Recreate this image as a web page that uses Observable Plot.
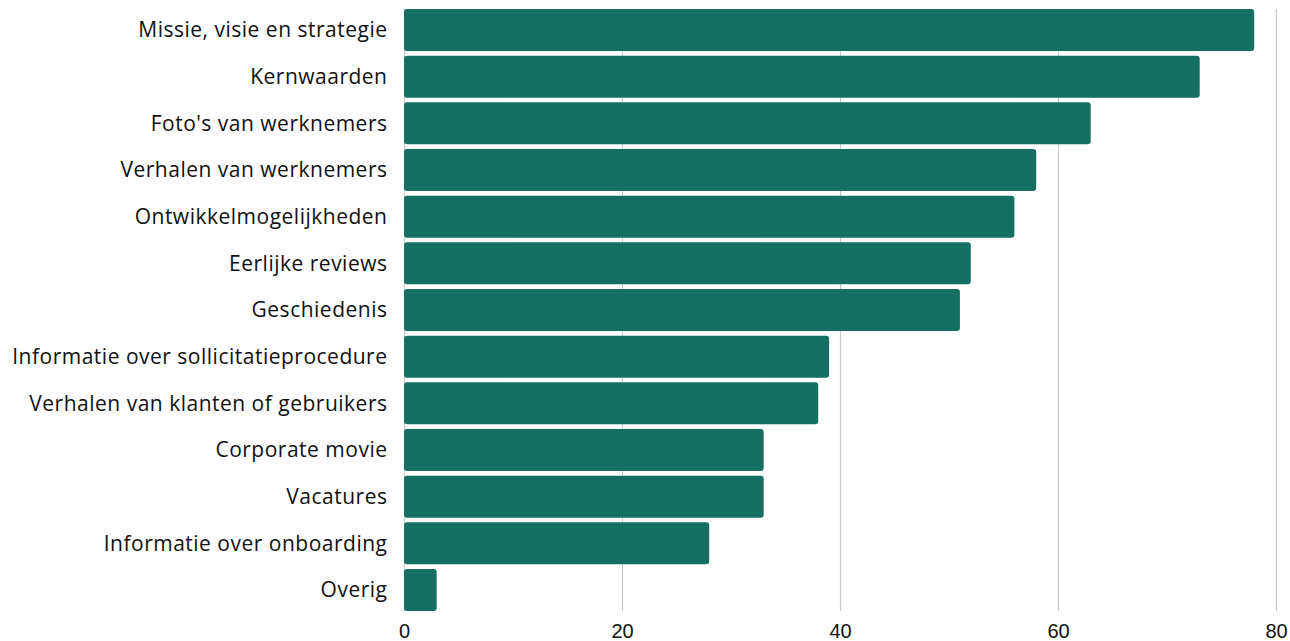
<!DOCTYPE html>
<html>
<head>
<meta charset="utf-8">
<script src="https://cdn.jsdelivr.net/npm/d3@7"></script>
<script src="https://cdn.jsdelivr.net/npm/@observablehq/plot@0.6"></script>
<style>
  html, body { margin: 0; padding: 0; background: #fff; }
  .ylab text { letter-spacing: 0.5px; }
</style>
</head>
<body>
<div id="chart"></div>
<script>
const categories = [
  "Missie, visie en strategie",
  "Kernwaarden",
  "Foto's van werknemers",
  "Verhalen van werknemers",
  "Ontwikkelmogelijkheden",
  "Eerlijke reviews",
  "Geschiedenis",
  "Informatie over sollicitatieprocedure",
  "Verhalen van klanten of gebruikers",
  "Corporate movie",
  "Vacatures",
  "Informatie over onboarding",
  "Overig"
];
const values = [78, 73, 63, 58, 56, 52, 51, 39, 38, 33, 33, 28, 3];
const xTicks = [0, 20, 40, 60, 80];

const data = categories.map((c, i) => ({category: c, value: values[i]}));

const chart = Plot.plot({
  width: 1290,
  height: 641,
  marginLeft: 404,
  marginRight: 14,
  marginTop: 9,
  marginBottom: 30,
  style: {fontFamily: "'Open Sans', sans-serif", fontSize: "20px", color: "#222"},
  x: {domain: [0, 80], ticks: xTicks},
  y: {domain: categories, paddingInner: 0.1, paddingOuter: 0, round: false, label: null},
  marks: [
    Plot.gridX(xTicks, {stroke: "#c8c8c8", strokeOpacity: 1, strokeWidth: 1.2}),
    Plot.barX(data, {x: "value", y: "category", fill: "#167062", rx: 3}),
    Plot.axisX(xTicks, {tickSize: 0, tickPadding: 12, label: null, fontSize: 20, fontFamily: "'Liberation Sans', Arial, sans-serif", fill: "#111"}),
    Plot.axisY({tickSize: 0, tickPadding: 17, label: null, fontSize: 21, fill: "#111", className: "ylab"})
  ]
});
document.getElementById("chart").appendChild(chart);
</script>
</body>
</html>
